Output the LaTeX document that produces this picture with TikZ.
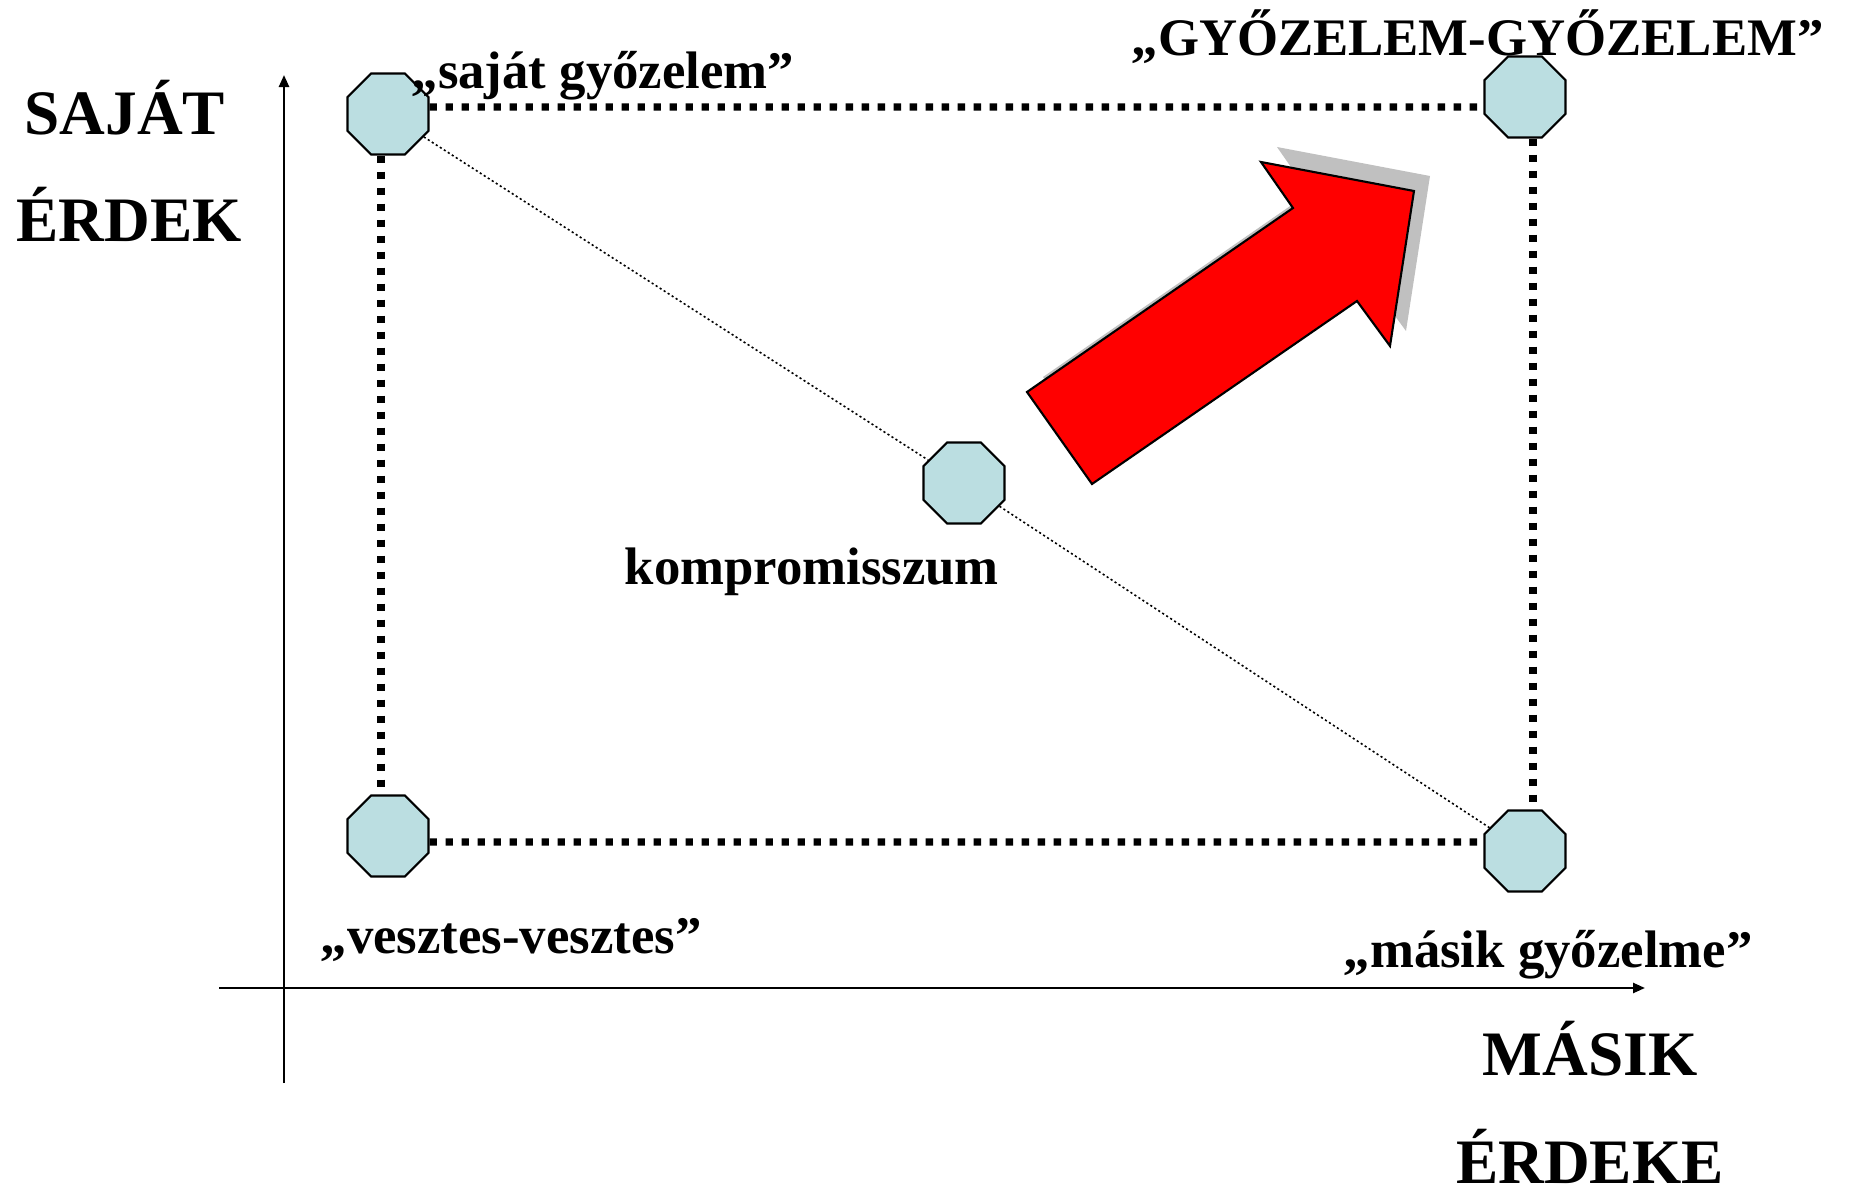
\documentclass[tikz,border=0pt]{standalone}
\usepackage{fontspec}
\setmainfont{Liberation Serif}
\usetikzlibrary{shapes.geometric,arrows.meta,calc}
\definecolor{octfill}{RGB}{187,222,225}
\definecolor{shadowgray}{RGB}{192,192,192}
\definecolor{arrowred}{RGB}{255,0,0}
\begin{document}
\begin{tikzpicture}[x=0.01cm,y=-0.01cm,
  oct/.style={draw,regular polygon,regular polygon sides=8,minimum size=0.877cm,inner sep=0pt,fill=octfill,line width=0.6pt},
  thickdot/.style={line width=2.1pt,dash pattern=on 2.1pt off 2.45pt},
  thindot/.style={line width=0.45pt,dash pattern=on 0.6pt off 0.75pt},
  lbl/.style={font=\bfseries\fontsize{15}{17}\selectfont,inner sep=0pt,anchor=base west},
  axlbl/.style={font=\bfseries\fontsize{18}{20}\selectfont,inner sep=0pt,anchor=base},
  axisline/.style={line width=0.7pt,-{Triangle[length=0.12cm,width=0.10cm]}}
]
\useasboundingbox (0,0) rectangle (1856,1194);

% axes
\coordinate (yb) at (284,1083);
\coordinate (yt) at (284,75);
\coordinate (xl) at (219,988);
\coordinate (xr) at (1645,988);
\draw[axisline] (yb) -- (yt);
\draw[axisline] (xl) -- (xr);

% octagons
\node[oct] (A) at (388,114) {};
\node[oct] (B) at (1525,97) {};
\node[oct] (C) at (964,483) {};
\node[oct] (D) at (388,836) {};
\node[oct] (E) at (1525,851) {};

% thick dotted rectangle
\draw[thickdot] ([yshift=0.07cm]A.east) -- ([yshift=-0.10cm]B.west);
\draw[thickdot] ([xshift=-0.07cm]A.south) -- ([xshift=-0.07cm]D.north);
\draw[thickdot] ([yshift=-0.06cm]D.east) -- ([yshift=0.09cm]E.west);
\draw[thickdot] ([xshift=0.08cm]B.south) -- ([xshift=0.08cm]E.north);

% thin dotted diagonal
\draw[thindot] (A) -- (C);
\draw[thindot] (C) -- (E);

% red arrow with shadow
\fill[shadowgray,shift={(16,-15)}] (1092,484) -- (1027,392) -- (1293,208) -- (1261,162) -- (1414,191) -- (1390,346) -- (1357,301) -- cycle;
\draw[fill=arrowred,line width=0.6pt,line join=miter] (1092,484) -- (1027,392) -- (1293,208) -- (1261,162) -- (1414,191) -- (1390,346) -- (1357,301) -- cycle;

% labels
\node[lbl] (lA) at (411,89) {„saját győzelem”};
\node[lbl] (lB) at (1131,56) {„GYŐZELEM-GYŐZELEM”};
\node[lbl] (lC) at (624,585) {kompromisszum};
\node[lbl] (lD) at (320,953) {„vesztes-vesztes”};
\node[lbl] (lE) at (1343,968) {„másik győzelme”};

\node[axlbl] (s1) at (125,135) {SAJÁT};
\node[axlbl] (s2) at (129,242) {ÉRDEK};
\node[axlbl] (m1) at (1590,1075) {MÁSIK};
\node[axlbl] (m2) at (1590,1183) {ÉRDEKE};
\end{tikzpicture}
\end{document}
